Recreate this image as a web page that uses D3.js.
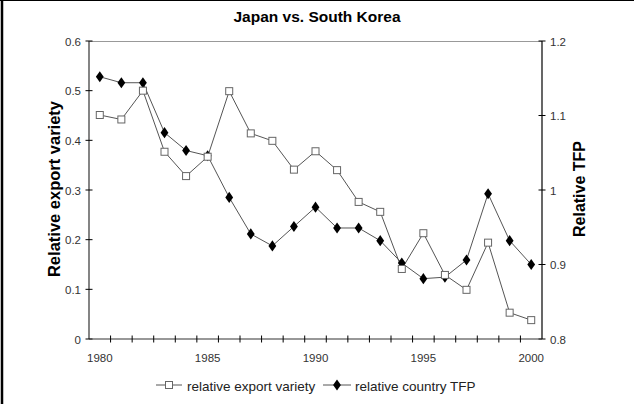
<!DOCTYPE html>
<html>
<head>
<meta charset="utf-8">
<script src="https://cdn.jsdelivr.net/npm/d3@7"></script>
<style>
  body { margin: 0; background: #fff; }
  text { font-family: "Liberation Sans", Arial, sans-serif; }
</style>
</head>
<body>
<div class="main"></div>
<script>
// Data
const years = d3.range(1980, 2001);
const exportVariety = [0.451, 0.442, 0.500, 0.377, 0.328, 0.367, 0.499, 0.414, 0.399, 0.341,
                       0.378, 0.340, 0.276, 0.256, 0.141, 0.213, 0.129, 0.099, 0.194, 0.053, 0.038];
const countryTFP = [1.152, 1.144, 1.144, 1.077, 1.053, 1.046, 0.990, 0.941, 0.925, 0.951,
                    0.977, 0.949, 0.949, 0.932, 0.902, 0.881, 0.883, 0.906, 0.995, 0.932, 0.900];
const leftTicks = [0, 0.1, 0.2, 0.3, 0.4, 0.5, 0.6];
const rightTicks = [0.8, 0.9, 1, 1.1, 1.2];
const yearLabels = [1980, 1985, 1990, 1995, 2000];

// Variables
const width = 634,
      height = 404,
      margin = {top: 41, left: 89, bottom: 65, right: 92},
      innerWidth = width - margin.left - margin.right,
      innerHeight = height - margin.top - margin.bottom;

const svg = d3.select('.main')
              .append('svg')
              .attr('width', width)
              .attr('height', height);

// Frame
svg.append('line').attr('x1', 2).attr('x2', 2).attr('y1', 0).attr('y2', height)
   .attr('stroke', '#000').attr('stroke-width', 2.5);
svg.append('line').attr('x1', 0).attr('x2', width).attr('y1', 0.5).attr('y2', 0.5)
   .attr('stroke', '#000').attr('stroke-width', 1);

const g = svg.append('g')
             .attr('transform', `translate(${margin.left}, ${margin.top})`);

// Scales
const xScale = d3.scaleBand().domain(years).range([0, innerWidth]).padding(0);
const xc = d => xScale(d) + xScale.bandwidth() / 2;
const yLeft = d3.scaleLinear().domain([0, 0.6]).range([innerHeight, 0]);
const yRight = d3.scaleLinear().domain([0.8, 1.2]).range([innerHeight, 0]);

// Top border of plot area
g.append('line').attr('x1', 0).attr('x2', innerWidth).attr('y1', 0.5).attr('y2', 0.5)
 .attr('stroke', '#999').attr('stroke-width', 1.2);

const tickColor = '#000';
const labelColor = '#333';

// left axis
g.append('line').attr('x1', 0).attr('x2', 0).attr('y1', 0).attr('y2', innerHeight)
 .attr('stroke', '#666').attr('stroke-width', 1.6);
g.selectAll('.ltick').data(leftTicks).enter().append('line')
 .attr('x1', -3.5).attr('x2', 3.5)
 .attr('y1', d => yLeft(d)).attr('y2', d => yLeft(d))
 .attr('stroke', tickColor);
g.selectAll('.llab').data(leftTicks).enter().append('text')
 .attr('x', -8).attr('y', d => yLeft(d) + 4.5)
 .attr('text-anchor', 'end').attr('font-size', 11.5).attr('fill', labelColor)
 .text(d => d === 0 ? '0' : d.toFixed(1));

// right axis
g.append('line').attr('x1', innerWidth).attr('x2', innerWidth).attr('y1', 0).attr('y2', innerHeight)
 .attr('stroke', '#000').attr('stroke-width', 1.2);
g.selectAll('.rtick').data(rightTicks).enter().append('line')
 .attr('x1', innerWidth - 3.5).attr('x2', innerWidth + 3.5)
 .attr('y1', d => yRight(d)).attr('y2', d => yRight(d))
 .attr('stroke', tickColor);
g.selectAll('.rlab').data(rightTicks).enter().append('text')
 .attr('x', innerWidth + 8).attr('y', d => yRight(d) + 4.5)
 .attr('text-anchor', 'start').attr('font-size', 11.5).attr('fill', labelColor)
 .text(d => d === 1 ? '1' : d.toFixed(1));

// bottom axis
g.append('line').attr('x1', 0).attr('x2', innerWidth).attr('y1', innerHeight).attr('y2', innerHeight)
 .attr('stroke', '#333').attr('stroke-width', 1.2);
g.selectAll('.btick').data(years.slice(1)).enter().append('line')
 .attr('x1', d => xScale(d)).attr('x2', d => xScale(d))
 .attr('y1', innerHeight - 3.5).attr('y2', innerHeight + 3.5)
 .attr('stroke', tickColor);
g.selectAll('.blab').data(yearLabels).enter().append('text')
 .attr('x', d => xc(d)).attr('y', innerHeight + 23)
 .attr('text-anchor', 'middle').attr('font-size', 11.5).attr('fill', labelColor)
 .text(d => d);

// Titles
svg.append('text').attr('x', 317).attr('y', 22)
   .attr('text-anchor', 'middle').attr('font-size', 15.5).attr('font-weight', 'bold')
   .text('Japan vs. South Korea');
svg.append('text').attr('transform', 'translate(60, 189) rotate(-90)')
   .attr('text-anchor', 'middle').attr('font-size', 16.5).attr('font-weight', 'bold')
   .text('Relative export variety');
svg.append('text').attr('transform', 'translate(585, 189) rotate(-90)')
   .attr('text-anchor', 'middle').attr('font-size', 16).attr('font-weight', 'bold')
   .text('Relative TFP');

// Lines
const lineColor = '#555';
const evData = years.map((y, i) => [y, exportVariety[i]]);
const tfpData = years.map((y, i) => [y, countryTFP[i]]);

g.append('path').datum(evData)
 .attr('fill', 'none').attr('stroke', lineColor).attr('stroke-width', 1)
 .attr('d', d3.line().x(d => xc(d[0])).y(d => yLeft(d[1])));
g.append('path').datum(tfpData)
 .attr('fill', 'none').attr('stroke', lineColor).attr('stroke-width', 1)
 .attr('d', d3.line().x(d => xc(d[0])).y(d => yRight(d[1])));

// Markers
const diamond = d3.symbol().type(d3.symbolDiamond).size(40);
g.selectAll('.tfp').data(tfpData).enter().append('path')
 .attr('d', diamond)
 .attr('transform', d => `translate(${xc(d[0])}, ${yRight(d[1])}) scale(1.15, 0.95)`)
 .attr('fill', '#000');
g.selectAll('.ev').data(evData).enter().append('rect')
 .attr('x', d => xc(d[0]) - 3.5).attr('y', d => yLeft(d[1]) - 3.5)
 .attr('width', 7).attr('height', 7)
 .attr('fill', '#fff').attr('stroke', '#666').attr('stroke-width', 1);

// Legend
const lg = svg.append('g').attr('transform', 'translate(0, 385)');
lg.append('line').attr('x1', 156).attr('x2', 182).attr('y1', 0).attr('y2', 0)
  .attr('stroke', lineColor);
lg.append('rect').attr('x', 165.5).attr('y', -3.5).attr('width', 7).attr('height', 7)
  .attr('fill', '#fff').attr('stroke', '#666');
lg.append('text').attr('x', 187).attr('y', 5.5).attr('font-size', 13.5).attr('fill', '#222')
  .text('relative export variety');
lg.append('line').attr('x1', 323).attr('x2', 351).attr('y1', 0).attr('y2', 0)
  .attr('stroke', lineColor);
lg.append('path').attr('d', diamond)
  .attr('transform', 'translate(337, 0) scale(1.15, 0.95)').attr('fill', '#000');
lg.append('text').attr('x', 355).attr('y', 5.5).attr('font-size', 13.5).attr('fill', '#222')
  .text('relative country TFP');
</script>
</body>
</html>
